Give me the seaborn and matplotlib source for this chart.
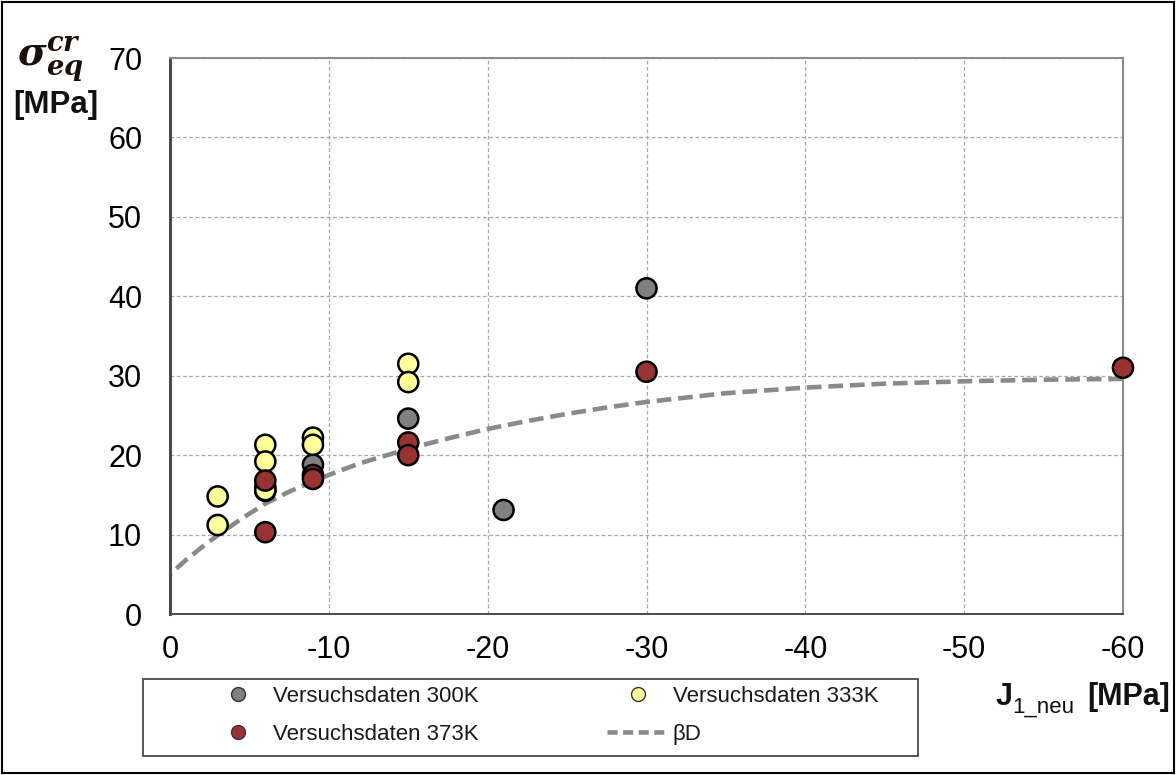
import numpy as np
import pandas as pd
import matplotlib
matplotlib.use("Agg")
import matplotlib.pyplot as plt
from matplotlib.lines import Line2D
import seaborn as sns

# ---- data ----
x_300 = [-6, -9, -15, -21, -30]
y_300 = [15.5, 18.8, 24.6, 13.1, 41.0]

x_333 = [-3, -3, -6, -6, -6, -6, -9, -9, -15, -15]
y_333 = [14.8, 11.2, 21.3, 19.2, 16.0, 15.6, 22.2, 21.3, 31.5, 29.2]

x_373 = [-6, -6, -9, -9, -15, -15, -30, -60]
y_373 = [16.8, 10.3, 17.5, 17.0, 21.6, 20.0, 30.5, 31.0]

x_bd = [0, -1, -2, -3, -4.5, -6, -7.5, -9, -10.5, -12, -13.5, -15, -17.5, -20,
        -22.5, -25, -27.5, -30, -35, -40, -45, -50, -55, -60]
y_bd = [5.0, 6.8, 8.4, 9.9, 12.0, 13.9, 15.4, 16.7, 17.9, 19.0, 19.9, 20.8, 22.1, 23.3,
        24.3, 25.2, 26.0, 26.7, 27.8, 28.5, 29.0, 29.3, 29.5, 29.6]

x_ticks = [0, -10, -20, -30, -40, -50, -60]
x_ticklabels = ["0", "-10", "-20", "-30", "-40", "-50", "-60"]
y_ticks = [0, 10, 20, 30, 40, 50, 60, 70]

labels = ["Versuchsdaten 300K", "Versuchsdaten 333K", "Versuchsdaten 373K"]
colors = ["#808080", "#FFFF99", "#993333"]
line_label = "βD"

df = pd.concat([
    pd.DataFrame({"J": x_300, "s": y_300, "serie": labels[0]}),
    pd.DataFrame({"J": x_333, "s": y_333, "serie": labels[1]}),
    pd.DataFrame({"J": x_373, "s": y_373, "serie": labels[2]}),
], ignore_index=True)
df_bd = pd.DataFrame({"J": x_bd, "s": y_bd})

sns.set_theme(style="white")
plt.rcParams["font.family"] = ["Liberation Sans", "DejaVu Sans"]
plt.rcParams["mathtext.fontset"] = "dejavuserif"

W, H = 1176, 775
fig = plt.figure(figsize=(W / 100, H / 100), dpi=100)
ax = fig.add_axes([170 / W, 1 - 614 / H, (1123 - 170) / W, (614 - 58) / H])

line_color = "#8a8a8a"
sns.lineplot(data=df_bd, x="J", y="s", ax=ax, color=line_color, lw=3.3,
             linestyle=(0, (3.2, 1.5)), zorder=2, legend=False)
sns.scatterplot(data=df, x="J", y="s", hue="serie", hue_order=labels,
                palette=dict(zip(labels, colors)), s=210, edgecolor="black",
                linewidth=1.8, ax=ax, zorder=3, legend=False, clip_on=False)

ax.set_xlim(0, -60)
ax.set_ylim(0, 70)
ax.set_xticks(x_ticks)
ax.set_xticklabels(x_ticklabels)
ax.set_yticks(y_ticks)
ax.grid(True, color="#a8a8a8", linestyle=(0, (3, 2)), lw=0.9)
ax.tick_params(axis="x", labelsize=22, colors="#606060", labelcolor="black",
               direction="out", length=7, width=1.2, pad=8)
ax.tick_params(axis="y", labelsize=22, colors="#606060", labelcolor="black",
               direction="in", length=7, width=1.2, pad=20)
for sp in ax.spines.values():
    sp.set_color("#8c8c8c")
    sp.set_linewidth(1.5)
ax.spines["left"].set_color("#4a4a4a")
ax.spines["left"].set_linewidth(2.2)
ax.spines["bottom"].set_color("#4a4a4a")
ax.spines["bottom"].set_linewidth(1.4)
ax.set_xlabel("")
ax.set_ylabel("")

# legend (two columns placed separately) with its own frame
def mk(c):
    return Line2D([], [], marker="o", ls="", markersize=10, markerfacecolor=c,
                  markeredgecolor="#333333", markeredgewidth=1.0)

common = dict(loc="upper left", fontsize=16, frameon=False, handlelength=2.75,
              handletextpad=0.2, borderaxespad=0, borderpad=0, labelspacing=0.75)
leg1 = fig.legend([mk(colors[0]), mk(colors[2])], [labels[0], labels[2]],
                  bbox_to_anchor=(207 / W, 1 - 686 / H), **common)
leg2 = fig.legend([mk(colors[1]), Line2D([], [], color=line_color, lw=3.3, linestyle=(0, (2.2, 1.2)))],
                  [labels[1], line_label],
                  bbox_to_anchor=(607 / W, 1 - 686 / H), **common)
for lg in (leg1, leg2):
    for t in lg.get_texts():
        t.set_color("#1a1a1a")

fig.patches.append(plt.Rectangle((143 / W, 1 - 756 / H), (918 - 143) / W, (756 - 679) / H,
                                 transform=fig.transFigure, fill=False,
                                 edgecolor="#4a4a4a", lw=1.3))

# y-axis label
fig.text(17 / W, 1 - 66 / H, r"$\mathbfit{\sigma}_{\mathbfit{eq}}^{\mathbfit{cr}}$",
         fontsize=28, color="#1a1008", ha="left", va="baseline")
fig.text(13 / W, 1 - 113 / H, "[MPa]", fontsize=22.5, fontweight="bold",
         ha="left", va="baseline", color="#111111")

# x-axis label: bold J, regular subscript, bold unit
fig.text(1170 / W, 1 - 705 / H, "[MPa]", fontsize=22, fontweight="bold",
         ha="right", va="baseline", color="#111111")
fig.text(1074 / W, 1 - 713 / H, "1_neu", fontsize=16, fontweight="normal",
         ha="right", va="baseline", color="#111111")
fig.text(1013 / W, 1 - 705 / H, "J", fontsize=22, fontweight="bold",
         ha="right", va="baseline", color="#111111")

# figure frame
fig.patches.append(plt.Rectangle((0.002, 0.002), 0.996, 0.995, transform=fig.transFigure,
                                 fill=False, edgecolor="black", lw=1.5))

fig.savefig("out.png", dpi=100)
